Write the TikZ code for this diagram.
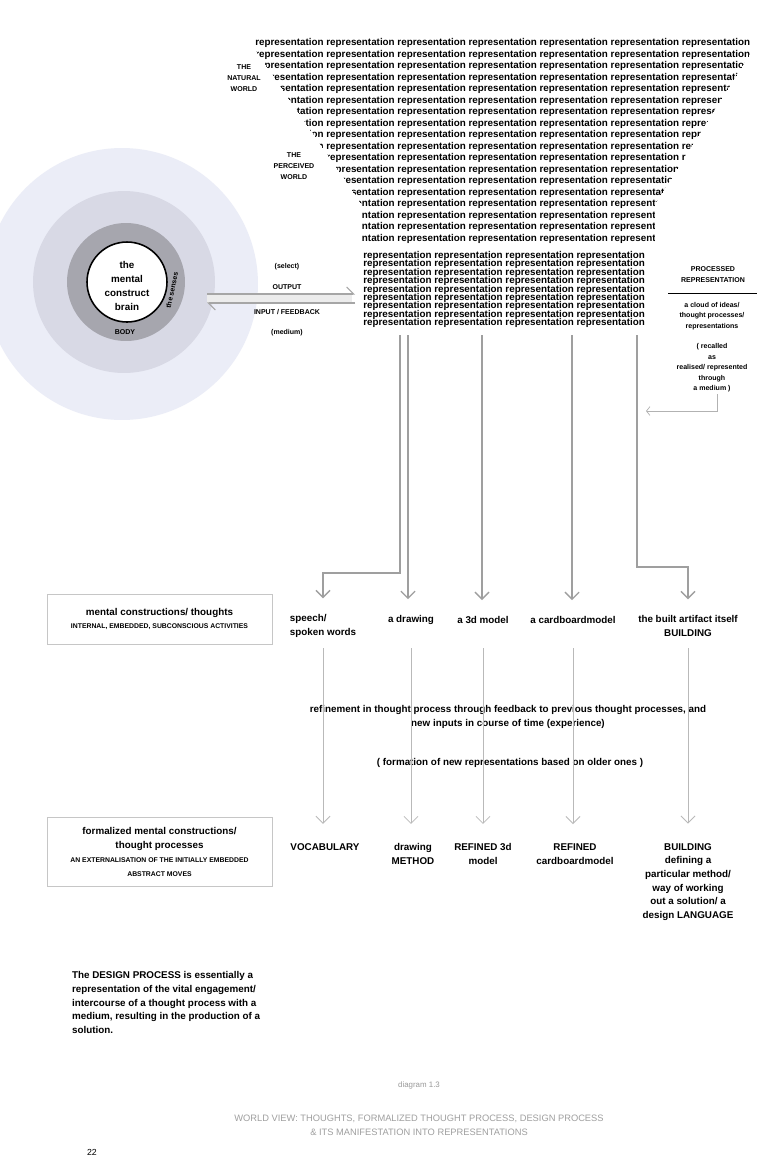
\documentclass[tikz,border=0pt]{standalone}
\usepackage{fontspec}
\setmainfont{Liberation Sans}
\usetikzlibrary{arrows.meta,positioning}
\definecolor{worldblue}{RGB}{235,237,247}
\definecolor{selfgray}{RGB}{216,217,229}
\definecolor{bodygray}{RGB}{166,166,174}
\newcommand{\repword}{representation}
\newcommand{\replong}{\repword\ \repword\ \repword\ \repword\ \repword\ \repword\ \repword}
\newcommand{\repshort}{\repword\ \repword\ \repword\ \repword}
\newcommand{\smallcaps}{\fontsize{3.9}{5.6}\selectfont}
\begin{document}
\begin{tikzpicture}[x=0.02cm, y=-0.02cm,
    reptext/.style={font=\fontsize{5.6}{6}\selectfont\bfseries, inner sep=0pt, anchor=base west},
    lbl/.style={font=\fontsize{5.6}{7.8}\selectfont\bfseries, align=center, inner sep=1pt},
    caps/.style={font=\fontsize{4}{6.2}\selectfont\bfseries, align=center, inner sep=1pt},
    note/.style={font=\fontsize{4}{6}\selectfont\bfseries, align=center, inner sep=1pt},
    framebox/.style={lbl, draw=gray!45, line width=0.5pt, minimum width=4.5cm},
    sphere/.style={circle, inner sep=0pt},
    feed/.style={draw=gray!75, line width=0.8pt, -{Straight Barb[length=4pt,width=8pt]}, shorten >=8pt},
    refine/.style={draw=gray!55, line width=0.45pt, -{Straight Barb[length=4pt,width=8pt]}, shorten >=10pt},
    io/.style={draw=gray!70, line width=0.6pt, -{Straight Barb[harpoon,length=4pt,width=8pt]}}
]
\useasboundingbox (0,0) rectangle (760,1161);
\fill[white] (0,0) rectangle (760,1161);

% --- the self: world, body, brain ---
\node[sphere, fill=worldblue, minimum size=5.44cm] (world) at (122,284) {};
\node[sphere, fill=selfgray, minimum size=3.64cm] (self) at (124,282) {};
\node[sphere, fill=bodygray, minimum size=2.36cm] (body) at (126,282) {};
\node[sphere, fill=white, draw=black, line width=0.9pt, minimum size=1.6cm] (brain) at (127,282) {};
\node[lbl, font=\fontsize{5.6}{8}\selectfont\bfseries] (brain-txt) at (127,286) {the\\mental\\construct\\brain};
\node[caps] (body-txt) at (125,332) {BODY};
\node[note, rotate=78] (senses) at (172,290) {the senses};

% --- output / input between mind and world ---
\fill[gray!15] (207,294) rectangle (352,303);
\coordinate (mind-out) at (207,294);
\coordinate (world-in) at (355,294);
\coordinate (world-out) at (355,303);
\coordinate (mind-in) at (207,303);
\draw[io] (mind-out) -- (world-in);
\draw[io] (world-out) -- (mind-in);
\node[note] (select) at (287,267) {(select)};
\node[caps] (output) at (287,287) {OUTPUT};
\node[caps] (input) at (287,312) {INPUT / FEEDBACK};
\node[note] (medium) at (287,333) {(medium)};

% --- the world of representations ---
\node[caps] (natural) at (244,78) {THE\\NATURAL\\WORLD};
\node[caps] (perceived) at (294,166) {THE\\PERCEIVED\\WORLD};
\begin{scope}
\clip (244,34) -- (762,34) -- (654,205) -- (654,250) -- (362,250) -- (362,205) -- cycle;
\foreach \i in {0,...,17}
    \node[reptext] (rep-\i) at (255,45.5+\i*11.5) {\replong};
\end{scope}
\foreach \i in {0,...,8}
    \node[reptext] (proc-\i) at (363,258.5+\i*8.4) {\repshort};

% --- processed representation ---
\node[caps] (processed) at (713,275) {PROCESSED\\REPRESENTATION};
\coordinate (rule-l) at (668,293);
\coordinate (rule-r) at (757,293);
\draw[line width=0.5pt] (rule-l) -- (rule-r);
\node[note] (cloud) at (712,316) {a cloud of ideas/\\thought processes/\\representations};
\node[note] (realised) at (712,368) {( recalled\\as\\realised/ represented\\through\\a medium )};
\coordinate (loop-turn) at (717,411);
\coordinate (loop-end) at (646,411);
\draw[draw=gray!60, line width=0.4pt, -{Straight Barb[length=2pt,width=5pt]}]
    (realised.south -| loop-turn) -- (loop-turn) -- (loop-end);

% --- media of representation ---
\foreach \name/\x in {speech/400, drawing/408, model/482, cardboard/572, built/637}
    \coordinate (out-\name) at (\x,335);
\node[lbl, align=left] (speech) at (323,626) {speech/\\spoken words};
\node[lbl] (drawing) at (411,620) {a drawing};
\node[lbl] (model) at (483,620) {a 3d model};
\node[lbl] (cardboard) at (573,620) {a cardboardmodel};
\node[lbl] (built) at (688,626) {the built artifact itself\\BUILDING};
\draw[feed] (out-speech) -- ++(0,238) -| (speech.north);
\draw[feed] (out-drawing) -- (out-drawing |- drawing.north);
\draw[feed] (out-model) -- (out-model |- model.north);
\draw[feed] (out-cardboard) -- (out-cardboard |- cardboard.north);
\draw[feed] (out-built) -- ++(0,232) -| (built.north);

% --- refinement ---
\node[lbl] (refinement) at (508,717) {refinement in thought process through feedback to previous thought processes, and\\new inputs in course of time (experience)};
\node[lbl] (formation) at (510,763) {( formation of new representations based on older ones )};
\node[lbl] (vocab) at (325,847) {VOCABULARY};
\node[lbl] (method) at (413,854) {drawing\\METHOD};
\node[lbl] (refmodel) at (483,854) {REFINED 3d\\model};
\node[lbl] (refcard) at (575,854) {REFINED\\cardboardmodel};
\node[lbl] (language) at (688,882) {BUILDING\\defining a\\particular method/\\way of working\\out a solution/ a\\design LANGUAGE};
\foreach \src/\dst in {speech/vocab, drawing/method, model/refmodel, cardboard/refcard, built/language}
    \draw[refine] (\src.south |- 0,648) -- (\src.south |- \dst.north);

% --- left column ---
\node[framebox, minimum height=1cm] (thoughts) at (159.5,619)
    {mental constructions/ thoughts\\{\smallcaps INTERNAL, EMBEDDED, SUBCONSCIOUS ACTIVITIES}};
\node[framebox, minimum height=1.38cm] (formalized) at (159.5,852)
    {formalized mental constructions/\\thought processes\\{\smallcaps AN EXTERNALISATION OF THE INITIALLY EMBEDDED}\\{\smallcaps ABSTRACT MOVES}};
\node[lbl, align=left, anchor=west] (design) at (70,1002.5)
    {The DESIGN PROCESS is essentially a\\representation of the vital engagement/\\intercourse of a thought process with a\\medium, resulting in the production of a\\solution.};

% --- caption ---
\node[font=\fontsize{4.5}{6}\selectfont, text=gray!80] (diagram) at (419,1085) {diagram 1.3};
\node[font=\fontsize{5.3}{7.8}\selectfont, text=gray!75, align=center] (caption) at (419,1125)
    {WORLD VIEW: THOUGHTS, FORMALIZED THOUGHT PROCESS, DESIGN PROCESS\\\& ITS MANIFESTATION INTO REPRESENTATIONS};
\node[font=\fontsize{5}{6}\selectfont] (page) at (92,1152) {22};
\end{tikzpicture}
\end{document}
